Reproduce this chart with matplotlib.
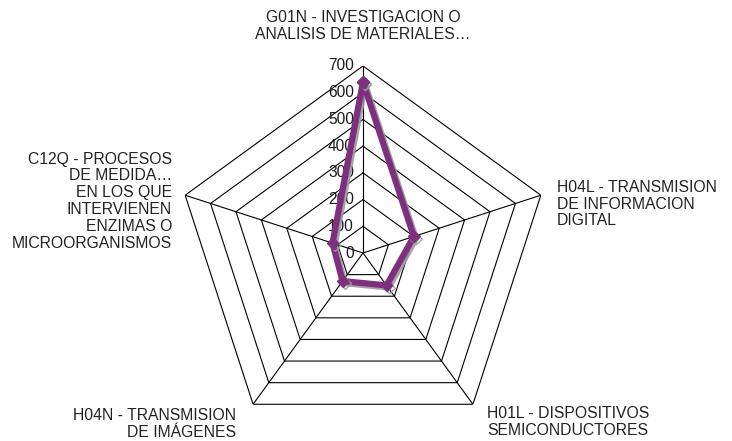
import numpy as np
import matplotlib
matplotlib.use("Agg")
import matplotlib.pyplot as plt
import matplotlib.patheffects as pe

plt.rcParams['font.family'] = ['Liberation Sans', 'DejaVu Sans']

categories = [
    "G01N - INVESTIGACION O\nANALISIS DE MATERIALES…",
    "H04L - TRANSMISION\nDE INFORMACION\nDIGITAL",
    "H01L - DISPOSITIVOS\nSEMICONDUCTORES",
    "H04N - TRANSMISION\nDE IMÁGENES",
    "C12Q - PROCESOS\nDE MEDIDA…\nEN LOS QUE\nINTERVIENEN\nENZIMAS O\nMICROORGANISMOS",
]
values = [640, 200, 150, 130, 120]
rings = [0, 100, 200, 300, 400, 500, 600, 700]

W, H = 732, 441
fig = plt.figure(figsize=(W / 100, H / 100), dpi=100)

# polar axes centred at (363, 253) px with a 187 px radius
cx, cy, rad = 363, 253, 187
ax = fig.add_axes([(cx - rad) / W, (H - cy - rad) / H, 2 * rad / W, 2 * rad / H],
                  projection='polar')
ax.set_theta_offset(np.pi / 2)
ax.set_theta_direction(-1)
ax.set_ylim(0, rings[-1])
ax.grid(False)
ax.set_xticks([])
ax.set_yticks([])
ax.spines['polar'].set_visible(False)
ax.patch.set_visible(False)

n = len(categories)
theta = np.linspace(0, 2 * np.pi, n, endpoint=False)
theta_closed = np.append(theta, theta[0])

# pentagon grid
for r in rings[1:]:
    ax.plot(theta_closed, [r] * (n + 1), color='black', lw=0.8, zorder=1)
for t in theta:
    ax.plot([t, t], [0, rings[-1]], color='black', lw=0.8, zorder=1)

# scale labels along the top spoke
for r in rings:
    ax.annotate(str(r), xy=(0, r), xytext=(-9, 0), textcoords='offset pixels',
                ha='right', va='center', fontsize=11.2, color='#1a1a1a', zorder=2)

vals_closed = values + values[:1]
ax.plot(theta_closed, vals_closed, color='#7E2F7E', lw=4.5, marker='D', ms=6,
        solid_joinstyle='miter', zorder=3,
        path_effects=[pe.SimpleLineShadow(offset=(1.5, -1.5), shadow_color='#9a9a9a', alpha=0.9),
                      pe.Normal()])

# category labels
lab = dict(fontsize=11.3, color='#222222', linespacing=1.15)
fig.text(363 / W, 1 - 26 / H, categories[0], ha='center', va='center', **lab)
fig.text(557 / W, 1 - 204 / H, categories[1], ha='left', va='center', **lab)
fig.text(568 / W, 1 - 422 / H, categories[2], ha='center', va='center', **lab)
fig.text(236 / W, 1 - 424 / H, categories[3], ha='right', va='center', multialignment='right', **lab)
fig.text(172 / W, 1 - 201 / H, categories[4], ha='right', va='center', multialignment='right', **lab)

fig.savefig('out.png', dpi=100)
